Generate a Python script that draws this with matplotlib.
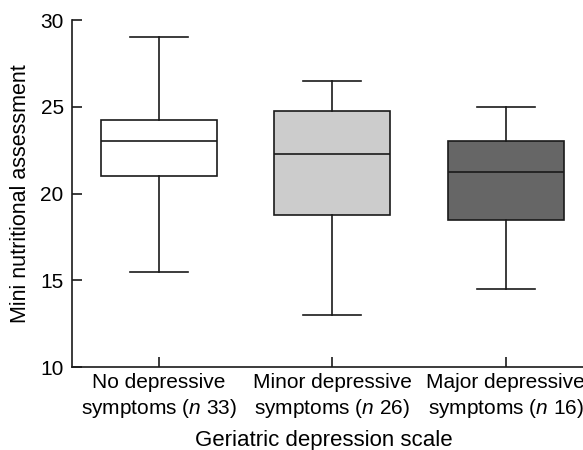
import matplotlib.pyplot as plt

plt.rcParams['font.family'] = ['Liberation Sans', 'DejaVu Sans']
plt.rcParams['mathtext.fontset'] = 'custom'
plt.rcParams['mathtext.it'] = 'Liberation Sans:italic'
plt.rcParams['mathtext.rm'] = 'Liberation Sans'

# Box plot summary values
groups = ['No depressive\nsymptoms ($\\it{n}$ 33)',
          'Minor depressive\nsymptoms ($\\it{n}$ 26)',
          'Major depressive\nsymptoms ($\\it{n}$ 16)']
whislo = [15.5, 13.0, 14.5]
q1 = [21.0, 18.75, 18.5]
med = [23.0, 22.25, 21.25]
q3 = [24.25, 24.75, 23.0]
whishi = [29.0, 26.5, 25.0]
colors = ['white', '#cccccc', '#666666']

stats = []
for i in range(len(groups)):
    stats.append({'whislo': whislo[i], 'q1': q1[i], 'med': med[i],
                  'q3': q3[i], 'whishi': whishi[i], 'fliers': []})

fig = plt.figure(figsize=(5.83, 4.5), dpi=100)
ax = fig.add_axes([0.1235, 0.1844, 0.893, 0.7711])

lc = '#1a1a1a'
lw = 1.2
fs = 15
bp = ax.bxp(stats, positions=[1, 2, 3], widths=0.67, capwidths=0.333,
            patch_artist=True, showfliers=False,
            boxprops=dict(edgecolor=lc, linewidth=lw),
            medianprops=dict(color=lc, linewidth=lw),
            whiskerprops=dict(color=lc, linewidth=lw),
            capprops=dict(color=lc, linewidth=lw))
for patch, c in zip(bp['boxes'], colors):
    patch.set_facecolor(c)

ax.set_xlim(0.5, 3.5)
ax.set_ylim(10, 30)
ax.set_yticks([10, 15, 20, 25, 30])
ax.set_xticks([1, 2, 3])
ax.set_xticklabels(groups, linespacing=1.3)
ax.spines['top'].set_visible(False)
ax.spines['right'].set_visible(False)
for s in ['left', 'bottom']:
    ax.spines[s].set_linewidth(lw)
    ax.spines[s].set_color(lc)
ax.tick_params(axis='both', direction='in', length=7, width=lw, color=lc,
               labelsize=fs, labelcolor='black')
ax.tick_params(axis='y', pad=6)
ax.tick_params(axis='x', pad=4)

ax.set_ylabel('Mini nutritional assessment', fontsize=15.5)
ax.yaxis.set_label_coords(-0.078, 0.5)
ax.set_xlabel('Geriatric depression scale', fontsize=16)
ax.xaxis.set_label_coords(0.484, -0.182)

fig.savefig('out.png', dpi=100)
